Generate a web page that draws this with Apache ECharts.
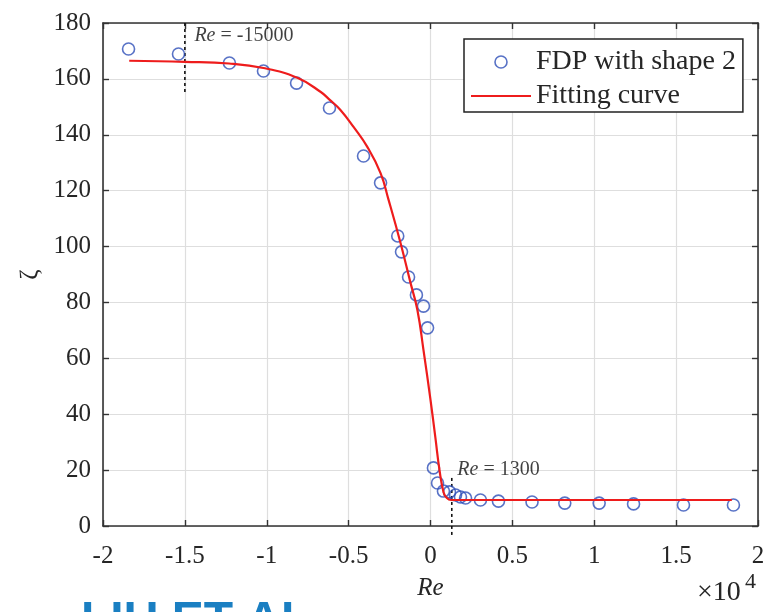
<!DOCTYPE html>
<html>
<head>
<meta charset="utf-8">
<script src="https://cdn.jsdelivr.net/npm/echarts@6/dist/echarts.min.js"></script>
<style>
  html, body { margin: 0; padding: 0; background: #fff; }
  #chart { width: 772px; height: 612px; }
</style>
</head>
<body>
<div id="chart"></div>
<script>
// Measured loss coefficient ζ of the FDP (shape 2) against Reynolds number
const fdpRe   = [-18440, -15390, -12280, -10200, -8180, -6170, -4090, -3050, -2000, -1770,
                 -1340, -860, -430, -180, 180, 430, 790, 1160, 1530, 1830,
                 2140, 3050, 4150, 6200, 8200, 10300, 12400, 15450, 18500];
const fdpZeta = [170.7, 168.9, 165.7, 162.8, 158.5, 149.6, 132.4, 122.8, 103.8, 98.1,
                 89.1, 82.7, 78.7, 70.9, 20.8, 15.4, 12.5, 12.2, 11.1, 10.4,
                 10.0, 9.3, 8.9, 8.6, 8.2, 8.2, 7.9, 7.5, 7.5];

// Fitted curve sampled along Re
const fitRe   = [-18400, -15000, -12300, -10200, -8100, -6700, -6170, -5500, -4700, -3850,
                 -3050, -2560, -1830, -1220, -800, -430, 0, 300, 550, 800, 1000, 1250, 18400];
const fitZeta = [166.5, 166.1, 165.5, 163.9, 160.3, 155.3, 152.6, 148.9, 142.8, 135.6,
                 126.3, 116.7, 101.3, 87.0, 77.3, 63.0, 45.1, 31.5, 20.0, 12.0, 10.0, 9.3, 9.3];

// Marked transition Reynolds numbers
const markRe = [-15000, 1300];
const markLabels = ['{i|Re} = -15000', '{i|Re} = 1300'];

// Axis ranges and ticks
const xTicks = { min: -20000, max: 20000, interval: 5000 };
const yTicks = { min: 0, max: 180, interval: 20 };

const serif = 'Liberation Serif';
const ink = '#262626';
const axisCol = '#333333';
const blue = '#2e4fb8';
const red = '#ee1c1c';

const pairs = (xs, ys) => xs.map((x, i) => [x, ys[i]]);

const chart = echarts.init(document.getElementById('chart'));

const baseX = {
  type: 'value', min: xTicks.min, max: xTicks.max, interval: xTicks.interval,
  axisLine: { show: true, onZero: false, lineStyle: { color: axisCol, width: 1.6 } },
  axisTick: { show: true, inside: true, length: 6, lineStyle: { color: axisCol, width: 1.4 } },
};
const baseY = {
  type: 'value', min: yTicks.min, max: yTicks.max, interval: yTicks.interval,
  axisLine: { show: true, onZero: false, lineStyle: { color: axisCol, width: 1.6 } },
  axisTick: { show: true, inside: true, length: 6, lineStyle: { color: axisCol, width: 1.4 } },
};

chart.setOption({
  animation: false,
  backgroundColor: '#ffffff',
  grid: { left: 103, right: 14, top: 23, bottom: 86 },
  xAxis: [
    Object.assign({}, baseX, {
      position: 'bottom',
      axisLabel: { color: ink, fontFamily: serif, fontSize: 25, margin: 18,
                   formatter: v => String(v / 10000) },
      splitLine: { show: true, lineStyle: { color: '#dedede', width: 1.2 } },
      name: 'Re', nameLocation: 'middle', nameGap: 50,
      nameTextStyle: { color: ink, fontFamily: serif, fontSize: 25, fontStyle: 'italic' }
    }),
    Object.assign({}, baseX, {
      position: 'top', axisLabel: { show: false }, splitLine: { show: false }
    })
  ],
  yAxis: [
    Object.assign({}, baseY, {
      position: 'left',
      axisLabel: { color: ink, fontFamily: serif, fontSize: 25, margin: 12 },
      splitLine: { show: true, lineStyle: { color: '#dedede', width: 1.2 } },
      name: 'ζ', nameLocation: 'middle', nameGap: 56, nameRotate: 90,
      nameTextStyle: { color: ink, fontFamily: serif, fontSize: 25 }
    }),
    Object.assign({}, baseY, {
      position: 'right', axisLabel: { show: false }, splitLine: { show: false }
    })
  ],
  legend: {
    data: [
      { name: 'FDP with shape 2', icon: 'circle',
        itemStyle: { color: 'rgba(255,255,255,0)', borderColor: blue, borderWidth: 1.6 } },
      { name: 'Fitting curve', icon: 'path://M0 0H60V2.2H0Z',
        itemStyle: { color: red, borderWidth: 0 } }
    ],
    orient: 'vertical',
    left: 464, top: 39,
    itemWidth: 60, itemHeight: 12, itemGap: 6,
    padding: [9, 7, 2, 7],
    borderColor: '#222', borderWidth: 1.5,
    backgroundColor: '#fff',
    textStyle: { color: ink, fontFamily: serif, fontSize: 28 },
    selectedMode: false
  },
  series: [
    {
      name: 'FDP with shape 2', type: 'scatter', data: pairs(fdpRe, fdpZeta),
      symbol: 'circle', symbolSize: 12,
      itemStyle: { color: 'rgba(255,255,255,0)', borderColor: blue, borderWidth: 1.6 },
      z: 3
    },
    {
      name: 'Fitting curve', type: 'line', data: pairs(fitRe, fitZeta),
      symbol: 'none', smooth: 0.45,
      lineStyle: { color: red, width: 2.2 }, itemStyle: { color: red },
      z: 4
    },
    {
      name: 'mark-left', type: 'line', data: [[markRe[0], 180], [markRe[0], 155.3]],
      symbol: 'none', clip: false, silent: true,
      lineStyle: { color: '#111', width: 1.6, type: [3, 3] }, z: 2
    },
    {
      name: 'mark-right', type: 'line', data: [[markRe[1], 17.2], [markRe[1], -3.9]],
      symbol: 'none', clip: false, silent: true,
      lineStyle: { color: '#111', width: 1.6, type: [3, 3] }, z: 2
    },
    {
      name: 'mark-text', type: 'scatter', symbolSize: 1, silent: true,
      itemStyle: { color: 'rgba(0,0,0,0)' },
      label: {
        show: true, position: 'right', color: '#111', fontFamily: serif, fontSize: 20,
        rich: { i: { fontStyle: 'italic', fontFamily: serif, fontSize: 20, color: '#111' } }
      },
      data: [
        { value: [markRe[0], 175.4], label: { formatter: markLabels[0], distance: 9 } },
        { value: [markRe[1], 20.0], label: { formatter: markLabels[1], distance: 5 } }
      ],
      z: 5
    }
  ],
  graphic: [
    { type: 'text', left: 697, top: 579,
      style: { text: '×10', font: '28px "Liberation Serif"', fill: ink } },
    { type: 'text', left: 745, top: 571,
      style: { text: '4', font: '22px "Liberation Serif"', fill: ink } },
    { type: 'text', left: 81, top: 598,
      style: { text: 'LIU ET AL', font: 'bold 48px "Liberation Sans"', fill: '#1a7fc2' } }
  ]
});
</script>
</body>
</html>
